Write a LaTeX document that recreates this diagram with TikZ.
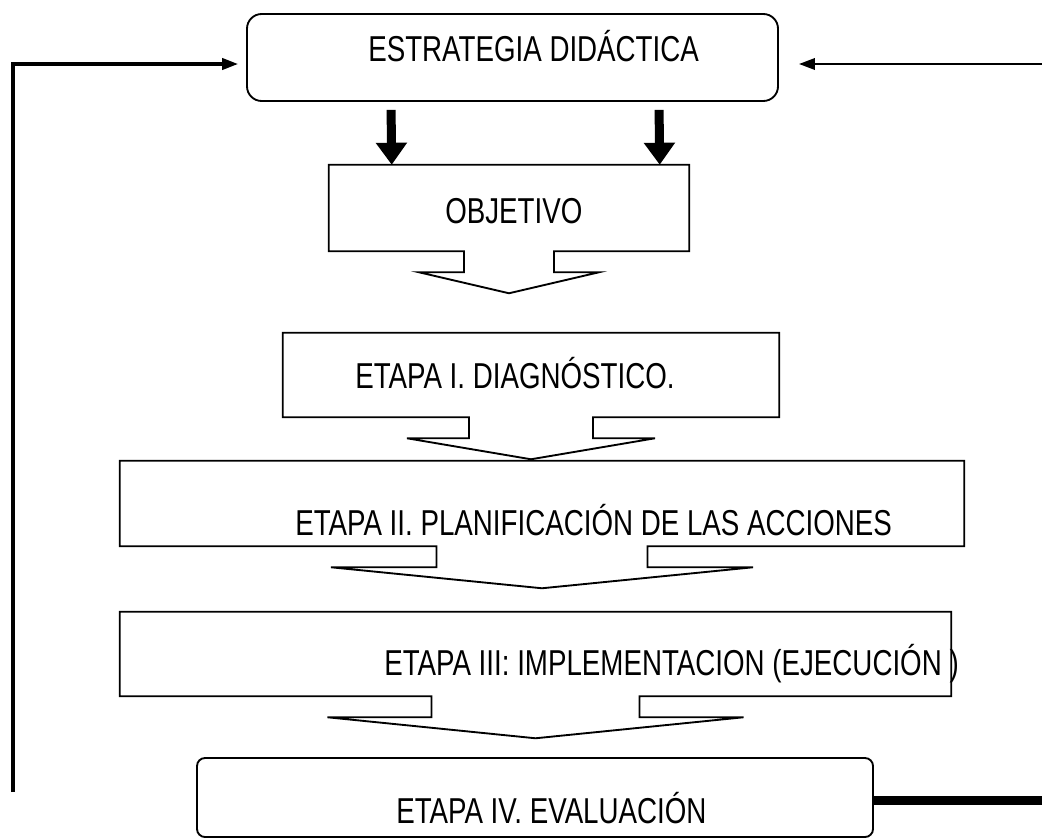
\documentclass[tikz,border=0pt]{standalone}
\usepackage{fontspec}
\newfontfamily\narrowsf[FakeStretch=0.77]{Liberation Sans}
\usetikzlibrary{arrows.meta,calc}

% box with a block arrow under it: #1 node, #2 half width of the shaft
\newcommand\stageshape[2]{%
  \draw[stageline] (#1.south west) -- (#1.north west) -- (#1.north east) -- (#1.south east)
    -- ($(#1.south)+(#2,0)$) -- ++(0,21) -- ++(#2,0) -- ($(#1.south)+(0,42)$)
    -- ($(#1.south)+(-2*#2,21)$) -- ++(#2,0) -- ++(0,-21) -- cycle;}

\begin{document}
\begin{tikzpicture}[x=0.75pt,y=-0.75pt,
  stagebox/.style={inner sep=0pt},
  roundbox/.style={draw,line width=1.4pt,inner sep=0pt},
  stageline/.style={line width=1.4pt},
  stagetext/.style={font=\narrowsf\fontsize{27}{30}\selectfont,inner sep=0pt,anchor=base west},
  feedback/.style={line width=2.3pt,-{Triangle[length=12pt,width=8.5pt]}},
  bigarrow/.style={line width=6.75pt,-{Triangle[length=16.5pt,width=22.5pt]}}]
\useasboundingbox (0,0) rectangle (1042,839);

%Shape: Rounded boxes
\node[roundbox,rounded corners=11pt,minimum width=398.25pt,minimum height=65.25pt] (estrategia) at (512.5,57.5) {};
\node[roundbox,rounded corners=6pt,minimum width=507pt,minimum height=59.25pt] (evaluacion) at (535,797.5) {};

%Shape: Boxes with block arrows
\node[stagebox,minimum width=270pt,minimum height=64.5pt] (objetivo) at (509,208) {};
\node[stagebox,minimum width=372pt,minimum height=63pt] (etapa1) at (531,375) {};
\node[stagebox,minimum width=633pt,minimum height=63.75pt] (etapa2) at (542,503.5) {};
\node[stagebox,minimum width=623.25pt,minimum height=63pt] (etapa3) at (535.5,654) {};
\stageshape{objetivo}{45}
\stageshape{etapa1}{62}
\stageshape{etapa2}{105.5}
\stageshape{etapa3}{104}

%Straight Lines: thick arrows
\draw[bigarrow] ($(estrategia.south west)+(145,8)$) -- ($(objetivo.north west)+(63,0)$);
\draw[bigarrow] ($(estrategia.south west)+(413,8)$) -- ($(objetivo.north west)+(331,0)$);

%Straight Lines: feedback
\coordinate (fbL) at (13,792);
\coordinate (fbR) at (1042,64);
\coordinate (evalR) at (1042,800);
\draw[feedback,shorten >=6pt] (fbL) |- ($(estrategia.west)+(0,6.5)$);
\draw[feedback,line width=1.8pt,shorten >=15pt] (fbR) -- (estrategia.east |- fbR);
\draw[line width=6.75pt] (evaluacion.east |- evalR) -- (evalR);

% Text Node
\node[stagetext] (txtestrategia) at (368,61.8) {ESTRATEGIA DIDÁCTICA};
% Text Node
\node[stagetext] (txtobjetivo) at (445,223.8) {OBJETIVO};
% Text Node
\node[stagetext] (txtetapa1) at (355,388.8) {ETAPA I. DIAGNÓSTICO.};
% Text Node
\node[stagetext] (txtetapa2) at (295,535.8) {ETAPA II. PLANIFICACIÓN DE LAS ACCIONES};
% Text Node
\node[stagetext] (txtetapa3) at (384,675.8) {ETAPA III: IMPLEMENTACION (EJECUCIÓN )};
% Text Node
\node[stagetext] (txtevaluacion) at (396,823.8) {ETAPA IV. EVALUACIÓN};

\end{tikzpicture}
\end{document}
